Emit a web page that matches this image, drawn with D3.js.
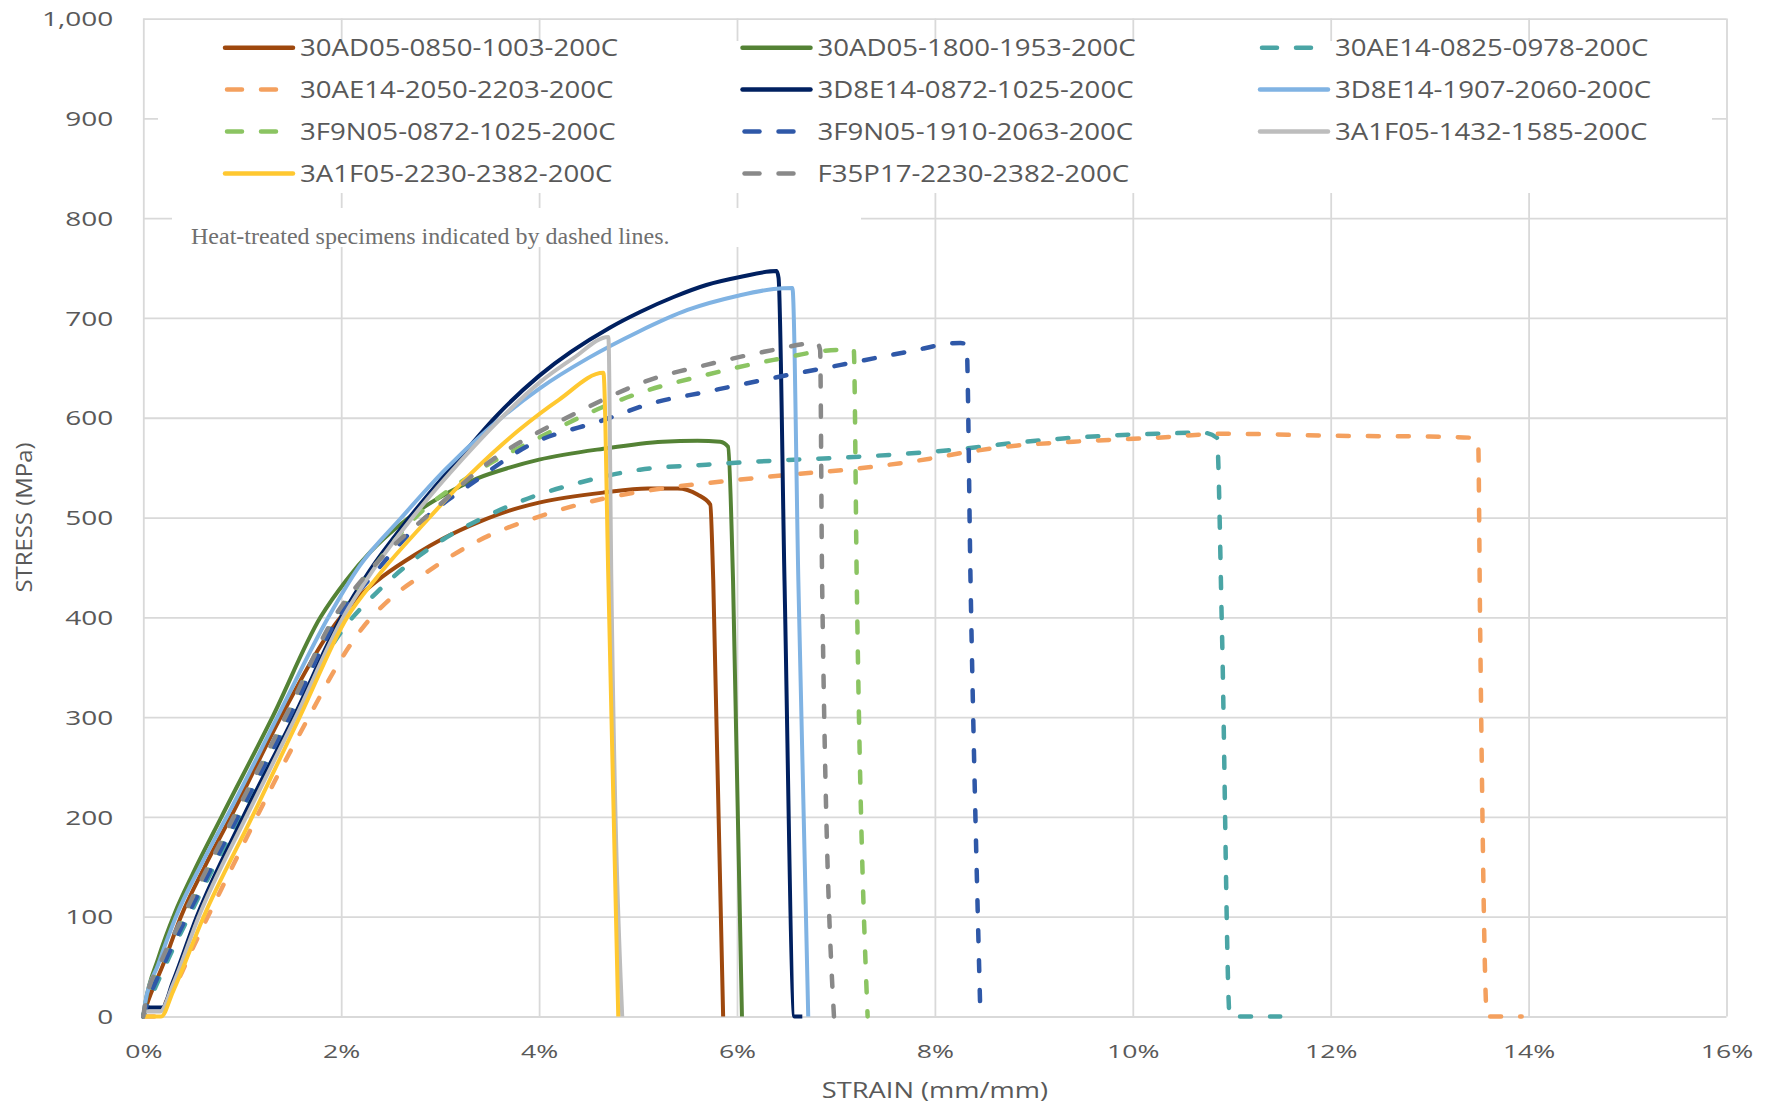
<!DOCTYPE html>
<html><head><meta charset="utf-8">
<script src="https://cdn.jsdelivr.net/npm/d3@7/dist/d3.min.js"></script>
<style>body{margin:0;background:#fff;} svg{display:block;}</style>
</head><body>
<svg id="chart" width="1777" height="1109"></svg>
<script>
// ---------- data (strain %, stress MPa) ----------
const seriesNames = [
  "30AD05-0850-1003-200C","30AD05-1800-1953-200C","30AE14-0825-0978-200C",
  "30AE14-2050-2203-200C","3D8E14-0872-1025-200C","3D8E14-1907-2060-200C",
  "3F9N05-0872-1025-200C","3F9N05-1910-2063-200C","3A1F05-1432-1585-200C",
  "3A1F05-2230-2382-200C","F35P17-2230-2382-200C"
];
const xTicks = [0,2,4,6,8,10,12,14,16];
const yTicks = [0,100,200,300,400,500,600,700,800,900,1000];

const s30AD05_0850 = [[0,0],[0.03,10],[0.2,52],[0.38,100],[0.62,150],[0.9,203],[1.4,302],[1.88,385],[2.15,418],[2.42,441],[2.75,463],[3.03,479],[3.4,496],[3.7,507],[4.0,515],[4.65,525],[5.1,529],[5.4,529],[5.6,523],[5.73,513],[5.76,437],[5.86,0]];
const s30AD05_1800 = [[0,0],[0.02,13],[0.15,58],[0.32,104],[0.5,143],[0.79,200],[1.31,301],[1.79,400],[2.05,437],[2.3,466],[2.56,490],[2.8,508],[3.03,522],[3.37,539],[3.7,550],[4.0,558],[4.65,569],[5.25,576],[5.6,577],[5.83,576],[5.91,571],[5.96,437],[6.05,0]];
const s30AE14_0825 = [[0,0],[0.04,10],[0.24,55],[0.46,100],[0.74,155],[1.0,205],[1.5,300],[1.8,355],[2.05,392],[2.35,424],[2.7,455],[3.03,478],[3.38,497],[3.94,521],[4.41,535],[5.02,548],[5.69,553],[6.37,557],[7.05,560],[7.72,564],[8.29,569],[8.72,574],[9.4,580],[10.24,584],[10.71,585],[10.85,580],[10.9,392],[10.98,0],[11.49,0]];
const s30AE14_2050 = [[0,0],[0.12,0],[0.25,18],[0.37,40],[0.47,62],[0.9,150],[1.35,240],[1.7,305],[1.98,355],[2.22,390],[2.49,418],[2.86,445],[3.37,476],[4.0,501],[4.65,519],[5.1,527],[5.93,537],[6.54,543],[7.21,549],[7.95,559],[8.29,565],[8.72,571],[9.4,576],[10.24,580],[10.92,584],[12.0,582],[13.1,581],[13.41,580],[13.49,577],[13.51,392],[13.58,0],[13.93,0]];
const s3D8E14_0872 = [[0,0],[0.02,9],[0.19,9],[0.3,35],[0.54,100],[1.01,200],[1.52,300],[2.0,400],[2.29,447],[2.69,500],[3.2,560],[3.57,602],[4.0,642],[4.71,690],[5.02,706],[5.36,721],[5.69,733],[6.03,741],[6.4,747],[6.42,740],[6.48,437],[6.58,0],[6.66,0]];
const s3D8E14_1907 = [[0,0],[0.02,14],[0.15,52],[0.33,100],[0.6,155],[0.88,207],[1.38,305],[1.87,400],[2.19,452],[2.6,499],[3.05,548],[3.5,590],[4.0,629],[4.5,660],[5.0,686],[5.5,708],[6.0,722],[6.37,729],[6.56,730],[6.62,437],[6.72,0]];
const s3F9N05_0872 = [[0,0],[0.03,12],[0.2,55],[0.42,100],[0.7,155],[0.96,205],[1.47,303],[1.95,400],[2.25,440],[2.7,495],[3.37,546],[4.0,580],[4.65,611],[5.02,625],[5.69,643],[6.37,658],[7.04,668],[7.18,668],[7.21,437],[7.32,0]];
const s3F9N05_1910 = [[0,0],[0.03,10],[0.22,55],[0.44,100],[0.72,155],[0.98,205],[1.49,303],[1.97,400],[2.3,440],[2.8,495],[3.36,537],[3.89,572],[4.66,598],[5.12,614],[5.69,626],[6.37,640],[7.05,653],[7.72,666],[8.26,675],[8.32,673],[8.36,437],[8.46,0]];
const s3A1F05_1432 = [[0,0],[0.02,5],[0.17,5],[0.3,32],[0.56,100],[1.04,200],[1.54,300],[2.02,400],[2.32,447],[2.72,500],[3.22,558],[3.6,598],[4.0,635],[4.35,660],[4.7,681],[4.73,437],[4.84,0]];
const s3A1F05_2230 = [[0,0],[0.18,0],[0.3,25],[0.61,100],[1.1,200],[1.58,300],[2.06,400],[2.36,440],[2.8,490],[3.3,543],[3.8,588],[4.2,618],[4.65,645],[4.7,437],[4.8,0]];
const sF35P17_2230 = [[0,0],[0.02,13],[0.18,55],[0.4,100],[0.68,155],[0.94,205],[1.45,303],[1.93,400],[2.3,448],[2.93,507],[3.53,558],[4.0,586],[4.38,605],[4.71,621],[5.12,638],[5.69,653],[6.37,668],[6.81,675],[6.84,668],[6.86,437],[6.98,0]];

const seriesValues = [s30AD05_0850,s30AD05_1800,s30AE14_0825,s30AE14_2050,s3D8E14_0872,s3D8E14_1907,s3F9N05_0872,s3F9N05_1910,s3A1F05_1432,s3A1F05_2230,sF35P17_2230];

// ---------- styles ----------
const seriesColors = ["#9E480E","#548235","#4AA5A5","#F4A05E","#002060","#80B3E3","#8BC462","#2F58A8","#BDBDBD","#FFC830","#898989"];
const seriesDashed = [false,false,true,true,false,false,true,true,false,false,true];

const svg = d3.select("#chart");
const L = 143.3, R = 1726.5, T = 18.6, B = 1016.5;
const x = d3.scaleLinear().domain([0,16]).range([L,R]);
const y = d3.scaleLinear().domain([0,1000]).range([B,T]);
const textColor = "#595959";
const gridColor = "#d9d9d9";

// grid lines via axes
const gx = svg.append("g").attr("transform",`translate(0,${B})`)
  .call(d3.axisBottom(x).tickValues(xTicks).tickSize(-(B-T)).tickFormat(d => d + "%"));
gx.select(".domain").remove();
gx.selectAll(".tick line").attr("stroke",gridColor).attr("stroke-width",1.8);
gx.selectAll(".tick text").attr("y",0).attr("dy",0)
  .attr("transform","translate(0,41) scale(1.4,1)")
  .attr("fill",textColor).style("font-family","'Open Sans', sans-serif").style("font-size","19px");

const gy = svg.append("g").attr("transform",`translate(${L},0)`)
  .call(d3.axisLeft(y).tickValues(yTicks).tickSize(-(R-L)).tickFormat(d3.format(",")));
gy.select(".domain").remove();
gy.selectAll(".tick line").attr("stroke",gridColor).attr("stroke-width",1.8);
gy.selectAll(".tick text").attr("x",0).attr("dy","0.36em")
  .attr("transform","translate(-30,0) scale(1.4,1)")
  .attr("fill",textColor).style("font-family","'Open Sans', sans-serif").style("font-size","20px");

// legend & annotation background boxes
svg.append("rect").attr("x",158).attr("y",41).attr("width",1712-158).attr("height",193-41).attr("fill","#fff");
svg.append("rect").attr("x",172).attr("y",208).attr("width",861-172).attr("height",247-208).attr("fill","#fff");

// series lines
const line = d3.line().x(d => x(d[0])).y(d => y(d[1])).curve(d3.curveMonotoneX);
const gl = svg.append("g");
seriesValues.forEach((vals,i) => {
  gl.append("path").datum(vals).attr("d",line)
    .attr("fill","none").attr("stroke",seriesColors[i])
    .attr("stroke-width",seriesDashed[i] ? 4.5 : 4)
    .attr("stroke-linejoin","round")
    .attr("stroke-linecap", seriesDashed[i] ? "round" : "butt")
    .attr("stroke-dasharray", seriesDashed[i] ? "11,19" : null);
});

// legend
const lg = svg.append("g");
seriesNames.forEach((name,i) => {
  const r = Math.floor(i/3), c = i % 3;
  const lx = 225 + c*517.5, ly = 47.7 + r*41.9;
  lg.append("line").attr("x1",lx + (seriesDashed[i]?2:0)).attr("x2",lx+68).attr("y1",ly).attr("y2",ly)
    .attr("stroke",seriesColors[i]).attr("stroke-width",4.5)
    .attr("stroke-linecap","round")
    .attr("stroke-dasharray",seriesDashed[i] ? "15,19" : null);
  lg.append("text").attr("transform",`translate(${lx+75},${ly}) scale(1.18,1)`)
    .attr("dy","0.36em").attr("fill",textColor)
    .style("font-family","'Open Sans', sans-serif").style("font-size","23.4px")
    .text(name);
});

// annotation
svg.append("text").attr("x",191).attr("y",244).attr("fill","#6f6f6f")
  .style("font-family","'Liberation Serif','Times New Roman',serif").style("font-size","24px")
  .text("Heat-treated specimens indicated by dashed lines.");

// axis titles
svg.append("text").attr("transform",`translate(${(L+R)/2},1098) scale(1.24,1)`)
  .attr("text-anchor","middle").attr("fill",textColor)
  .style("font-family","'Open Sans', sans-serif").style("font-size","22px")
  .text("STRAIN (mm/mm)");
svg.append("text").attr("transform",`translate(32,${(T+B)/2}) rotate(-90) scale(1.14,1)`)
  .attr("text-anchor","middle").attr("fill",textColor)
  .style("font-family","'Open Sans', sans-serif").style("font-size","21px")
  .text("STRESS (MPa)");
</script>
</body></html>
